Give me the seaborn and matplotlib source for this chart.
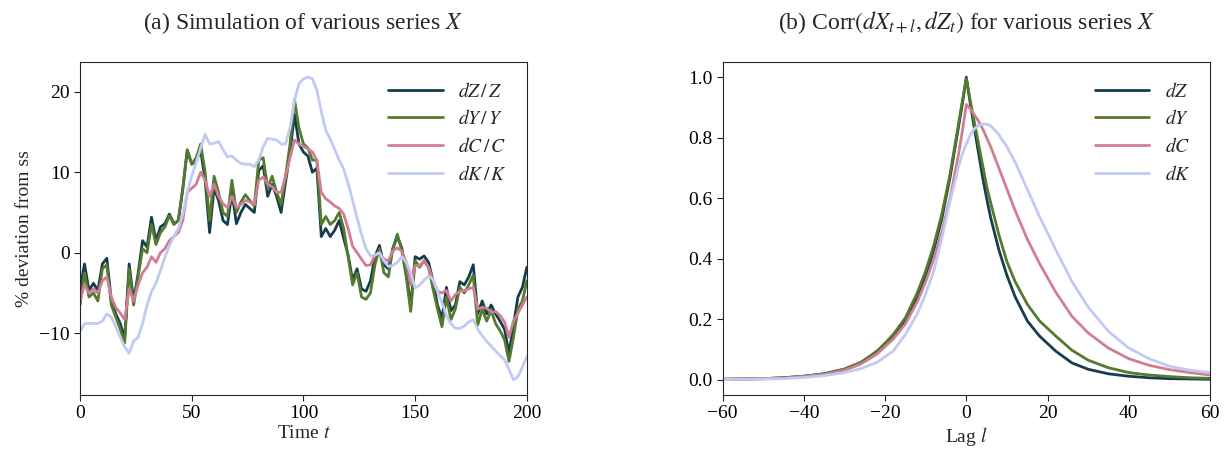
import numpy as np
import pandas as pd
import matplotlib
matplotlib.use("Agg")
import matplotlib.pyplot as plt
import seaborn as sns

# --- (a) simulated series, % deviation from steady state, read every 2 periods ---
t = list(range(0, 201, 2))

dZ = [-4.5, -1.4, -4.7, -3.8, -4.7, -1.4, -0.7, -5.9, -7.6, -8.8,
      -10.6, -1.4, -6.0, -2.6, 1.5, 0.7, 4.4, 1.5, 3.2, 3.6,
      4.8, 3.6, 4.0, 7.9, 12.7, 11.0, 11.4, 12.7, 9.0, 2.5,
      8.0, 6.5, 4.0, 3.5, 7.5, 3.6, 5.0, 6.0, 5.5, 5.0,
      10.2, 10.8, 7.0, 8.5, 7.0, 5.0, 8.8, 12.5, 17.2, 13.5,
      12.5, 12.0, 10.0, 10.5, 2.0, 3.0, 2.0, 2.8, 4.0, 1.8,
      -0.3, -3.4, -2.0, -4.5, -4.8, -3.5, -0.5, 0.9, -1.5, -2.0,
      0.5, 2.0, 0.6, -2.4, -6.7, -0.5, -0.8, -0.4, -1.2, -3.5,
      -6.5, -8.2, -4.3, -7.2, -6.5, -3.6, -4.0, -3.0, -1.5, -7.6,
      -6.0, -7.6, -6.5, -7.6, -8.5, -9.5, -12.5, -9.0, -5.5, -4.3,
      -1.8]

dY = [-6.5, -2.5, -5.5, -5.0, -6.0, -2.0, -1.5, -6.5, -8.0, -9.5,
      -11.2, -2.0, -6.5, -3.0, 0.5, 0.0, 3.5, 1.0, 2.5, 3.2,
      4.6, 3.5, 4.0, 8.0, 12.8, 11.0, 11.8, 13.5, 10.0, 4.0,
      9.5, 7.5, 5.0, 4.5, 9.0, 5.0, 6.3, 7.2, 6.5, 5.8,
      11.5, 11.8, 8.0, 9.5, 7.5, 6.0, 9.5, 13.5, 19.0, 15.5,
      13.5, 13.0, 11.5, 11.5, 3.5, 4.5, 3.5, 4.0, 5.0, 3.0,
      -0.5, -4.0, -2.5, -5.5, -5.8, -5.0, -1.5, 0.5, -2.5, -3.0,
      0.5, 2.3, 0.3, -3.0, -7.3, -1.0, -1.8, -1.0, -1.8, -4.5,
      -7.0, -9.2, -5.5, -8.3, -7.0, -4.3, -5.0, -4.0, -2.8, -9.0,
      -7.0, -8.5, -7.2, -8.8, -9.7, -10.8, -13.5, -10.5, -7.0, -6.0,
      -3.5]

dC = [-6.0, -4.0, -5.0, -4.5, -5.0, -3.5, -3.0, -5.5, -6.8, -7.5,
      -8.3, -4.5, -6.0, -4.0, -2.5, -1.8, -0.5, -1.2, 0.0, 0.5,
      1.5, 2.0, 2.5, 4.0, 7.5, 8.0, 8.5, 10.0, 9.0, 7.0,
      8.5, 7.0, 6.1, 5.6, 7.0, 5.6, 6.0, 6.5, 6.3, 6.0,
      9.0, 9.4, 8.5, 8.2, 7.5, 7.5, 9.5, 11.8, 14.0, 13.5,
      13.2, 12.9, 12.5, 11.5, 7.5, 6.7, 6.3, 5.8, 5.5, 4.8,
      3.0, 0.8, 0.0, -0.8, -1.6, -1.5, -0.3, 0.0, -0.8, -1.0,
      0.2, 0.6, 0.2, -1.2, -4.0, -1.6, -1.6, -1.0, -1.8, -3.5,
      -4.8, -5.0, -4.7, -6.0, -5.2, -4.8, -4.7, -4.5, -4.3, -7.0,
      -6.8, -6.9, -7.4, -7.3, -7.8, -8.6, -10.5, -8.5, -7.5, -6.5,
      -5.5]

dK = [-9.8, -8.8, -8.8, -8.8, -8.8, -8.5, -7.6, -8.0, -9.2, -10.5,
      -11.7, -12.5, -11.0, -10.5, -8.8, -6.5, -4.8, -3.8, -2.2, -0.6,
      0.9, 2.0, 3.0, 4.8, 7.5, 9.5, 11.2, 13.0, 14.7, 13.5,
      13.6, 13.8, 12.8, 11.9, 12.0, 11.5, 11.1, 11.0, 11.0, 10.7,
      11.5, 13.2, 14.2, 14.1, 14.0, 13.5, 13.5, 15.5, 18.9, 21.0,
      21.6, 21.8, 21.6, 20.2, 17.5, 15.2, 14.1, 12.8, 11.5, 10.4,
      8.6, 6.5, 4.3, 2.3, 0.5, -0.4, -0.3, 0.0, -1.0, -1.7,
      -1.6, -1.2, -0.5, -1.2, -2.5, -4.4, -4.0, -3.4, -2.9, -3.3,
      -4.8, -6.2, -7.8, -8.8, -9.4, -9.4, -9.1, -8.6, -8.3, -9.5,
      -10.3, -11.0, -11.6, -12.2, -12.8, -13.3, -14.5, -15.8, -15.4, -14.2,
      -12.9]

series_a = ["dZ", "dY", "dC", "dK"]
labels_a = [r"$dZ\,/\,Z$", r"$dY\,/\,Y$", r"$dC\,/\,C$", r"$dK\,/\,K$"]

# --- (b) Corr(dX_{t+l}, dZ_t) by lag ---
lags = [-60, -50, -45, -40, -35, -30, -26, -22, -18, -15, -12, -10, -8, -6,
        -4, -3, -2, -1, 0, 1, 2, 3, 4, 5, 6, 8, 10, 12, 15, 18, 22, 26,
        30, 35, 40, 45, 50, 55, 60]

corr_dZ = [0.002, 0.004, 0.007, 0.012, 0.020, 0.035, 0.056, 0.095, 0.145, 0.195,
           0.275, 0.345, 0.430, 0.535, 0.670, 0.750, 0.830, 0.910, 1.000, 0.910,
           0.830, 0.750, 0.670, 0.600, 0.535, 0.430, 0.345, 0.275, 0.195, 0.145,
           0.095, 0.056, 0.035, 0.020, 0.012, 0.007, 0.004, 0.003, 0.002]

corr_dY = [0.002, 0.004, 0.007, 0.012, 0.020, 0.036, 0.058, 0.093, 0.150, 0.205,
           0.290, 0.360, 0.445, 0.550, 0.680, 0.760, 0.840, 0.920, 0.995, 0.920,
           0.850, 0.780, 0.710, 0.640, 0.585, 0.480, 0.390, 0.325, 0.250, 0.195,
           0.145, 0.098, 0.065, 0.040, 0.024, 0.016, 0.011, 0.007, 0.005]

corr_dC = [0.002, 0.004, 0.006, 0.011, 0.018, 0.032, 0.052, 0.085, 0.135, 0.185,
           0.260, 0.325, 0.400, 0.490, 0.600, 0.670, 0.740, 0.820, 0.910, 0.895,
           0.875, 0.855, 0.830, 0.800, 0.770, 0.700, 0.630, 0.560, 0.465, 0.385,
           0.290, 0.210, 0.155, 0.105, 0.070, 0.048, 0.034, 0.024, 0.016]

corr_dK = [0.001, 0.003, 0.004, 0.008, 0.014, 0.024, 0.037, 0.058, 0.095, 0.150,
           0.220, 0.285, 0.360, 0.470, 0.590, 0.645, 0.700, 0.745, 0.780, 0.810,
           0.830, 0.840, 0.845, 0.845, 0.840, 0.810, 0.770, 0.720, 0.630, 0.540,
           0.430, 0.325, 0.240, 0.160, 0.105, 0.070, 0.045, 0.032, 0.024]

labels_b = [r"$dZ$", r"$dY$", r"$dC$", r"$dK$"]

sns.set_style("ticks")
plt.rcParams["font.family"] = ["Liberation Serif", "DejaVu Serif"]
plt.rcParams["mathtext.fontset"] = "stix"
plt.rcParams["font.size"] = 14

colors = sns.color_palette("cubehelix", 4)

fig = plt.figure(figsize=(12.31, 4.53), dpi=100)
ax1 = fig.add_axes([0.065, 0.128, 0.363, 0.735])
ax2 = fig.add_axes([0.587, 0.128, 0.396, 0.735])

df_a = pd.DataFrame({"t": t, "dZ": dZ, "dY": dY, "dC": dC, "dK": dK})
for name, lab, c in zip(series_a, labels_a, colors):
    sns.lineplot(data=df_a, x="t", y=name, ax=ax1, color=c, lw=2, label=lab, estimator=None)

ax1.set_xlim(0, 200)
ax1.set_xticks([0, 50, 100, 150, 200])
ax1.set_yticks([-10, 0, 10, 20])
ax1.set_xlabel(r"Time $t$", fontsize=14, labelpad=2)
ax1.set_ylabel("% deviation from ss", fontsize=14, labelpad=4)
ax1.set_title(r"(a) Simulation of various series $X$", fontsize=17, pad=24)
ax1.legend(loc="upper right", frameon=False, fontsize=14, handlelength=2.8,
           labelspacing=0.45, borderaxespad=0.6)

df_b = pd.DataFrame({"lag": lags, "dZ": corr_dZ, "dY": corr_dY, "dC": corr_dC, "dK": corr_dK})
for name, lab, c in zip(series_a, labels_b, colors):
    sns.lineplot(data=df_b, x="lag", y=name, ax=ax2, color=c, lw=2, label=lab, estimator=None)

ax2.set_xlim(-60, 60)
ax2.set_ylim(-0.05, 1.05)
ax2.set_xticks([-60, -40, -20, 0, 20, 40, 60])
ax2.set_yticks([0.0, 0.2, 0.4, 0.6, 0.8, 1.0])
ax2.set_xlabel(r"Lag $l$", fontsize=14, labelpad=2)
ax2.set_ylabel("")
ax2.set_title(r"(b) Corr$(dX_{t+l}, dZ_t)$ for various series $X$", fontsize=17, pad=24)
ax2.legend(loc="upper right", frameon=False, fontsize=14, handlelength=2.8,
           labelspacing=0.45, borderaxespad=0.6)

for ax in (ax1, ax2):
    ax.tick_params(labelsize=14, length=4, colors="#222222", labelcolor="black")

fig.savefig("out.png", dpi=100)
